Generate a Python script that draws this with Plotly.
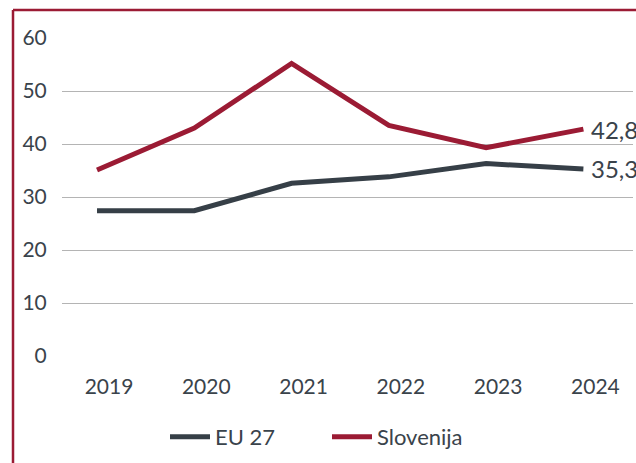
import plotly.graph_objects as go

years = ["2019", "2020", "2021", "2022", "2023", "2024"]
eu27 = [27.4, 27.4, 32.6, 33.8, 36.3, 35.3]
slovenija = [35.1, 43.0, 55.2, 43.5, 39.3, 42.8]
eu_label = "35,3"
si_label = "42,8"

C_SI = "#9b1b34"
C_EU = "#363f47"
TXT = "#3a434b"
FONT = "Lato"

W, H = 636, 463
L, R, T, B = 62, 3, 38, 107
pw, ph = W - L - R, H - T - B

fig = go.Figure()
fig.add_trace(go.Scatter(x=years, y=eu27, mode="lines", name="EU 27",
                         line=dict(color=C_EU, width=5)))
fig.add_trace(go.Scatter(x=years, y=slovenija, mode="lines", name="Slovenija",
                         line=dict(color=C_SI, width=5)))

for val, lab in [(eu27[-1], eu_label), (slovenija[-1], si_label)]:
    fig.add_annotation(x=5, y=val, text=lab, showarrow=False,
                       xanchor="left", yanchor="middle", xshift=6,
                       font=dict(family=FONT, size=24, color=TXT))

def px_x(p):
    return (p - L) / pw

def px_y(p):
    return (H - B - p) / ph

border = C_SI
fig.add_shape(type="line", xref="paper", yref="paper",
              x0=px_x(13), x1=px_x(13), y0=px_y(10), y1=px_y(470),
              line=dict(color=border, width=2.5))
fig.add_shape(type="line", xref="paper", yref="paper",
              x0=px_x(13), x1=px_x(640), y0=px_y(10), y1=px_y(10),
              line=dict(color=border, width=2.5))

fig.update_layout(
    width=W, height=H,
    margin=dict(l=L, r=R, t=T, b=B, pad=0, autoexpand=False),
    paper_bgcolor="white", plot_bgcolor="white",
    font=dict(family=FONT, size=20, color=TXT),
    showlegend=True,
    legend=dict(orientation="h", x=px_x(165), xanchor="left",
                y=px_y(437), yanchor="middle",
                font=dict(family=FONT, size=22, color=TXT), itemwidth=40,
                entrywidth=107, tracegroupgap=0),
    xaxis=dict(type="category", range=[-0.36, 5.51], showgrid=False,
               showline=False, zeroline=False, ticks="outside", ticklen=12,
               tickcolor="rgba(0,0,0,0)", ticklabelshift=12,
               tickfont=dict(family=FONT, size=21, color=TXT)),
    yaxis=dict(range=[0, 60], tickvals=[0, 10, 20, 30, 40, 50, 60],
               showgrid=True, gridcolor="#b4b4b4", gridwidth=1,
               zeroline=False, showline=False, ticks="outside", ticklen=10,
               tickcolor="rgba(0,0,0,0)",
               tickfont=dict(family=FONT, size=21, color=TXT)),
)

fig.write_html("out.html", config={"displayModeBar": False},
               post_script="document.body.style.margin='0';"
                           "document.body.style.overflow='hidden';")
